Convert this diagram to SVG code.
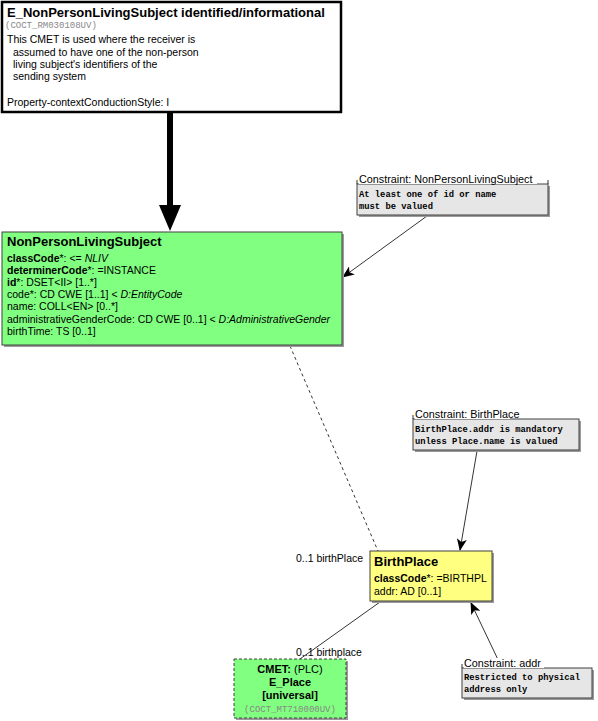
<svg xmlns="http://www.w3.org/2000/svg" width="598" height="721" viewBox="0 0 598 721">
<style>
.t{font-family:"Liberation Sans",Arial,sans-serif;fill:#000}
.title{font-size:13px;font-weight:bold}
.attr{font-size:10.5px}
.b{font-weight:bold}
.i{font-style:italic}
.mono{font-family:"Liberation Mono","Courier New",monospace;font-size:8.8px;font-weight:bold;fill:#000}
.code{font-family:"Liberation Mono","Courier New",monospace;font-size:9px;fill:#888}
.shadow{fill:#9a9a9a}
.green{fill:#80FF80;stroke:#404040;stroke-width:1}
.yellow{fill:#FFFF80;stroke:#404040;stroke-width:1}
.con{fill:#E6E6E6;stroke:#404040;stroke-width:1}
.lbl{fill:#fff}
.clbl{font-size:10.8px}
.line{stroke:#000;stroke-width:0.8;fill:none}
</style>
<defs>
<marker id="arr" markerWidth="12" markerHeight="10" refX="11" refY="5" orient="auto" markerUnits="userSpaceOnUse">
<path d="M0,0 L12,5 L0,10 L3,5 z" fill="#000"/>
</marker>
</defs>

<g id="connectors">
<line x1="170" y1="113" x2="170" y2="208" stroke="#000" stroke-width="6"/>
<path d="M159,205 L181,205 L170,231 z" fill="#000"/>
<line class="line" x1="290" y1="346" x2="378" y2="551" stroke-dasharray="3,3"/>
<line class="line" x1="427" y1="216" x2="343" y2="277" marker-end="url(#arr)"/>
<line class="line" x1="477" y1="451" x2="460" y2="550" marker-end="url(#arr)"/>
<line class="line" x1="502" y1="668" x2="471" y2="603" marker-end="url(#arr)"/>
<line class="line" x1="380" y1="602" x2="300" y2="659"/>
<text class="t" x="296" y="562" font-size="10.5">0..1 birthPlace</text>
<text class="t" x="296" y="656" font-size="10.5">0..1 birthplace</text>
</g>

<g id="E_NonPersonLivingSubject">
<rect x="2" y="2" width="339" height="110" fill="#fff" stroke="#000" stroke-width="2.5"/>
<text class="t title" x="7" y="17">E_NonPersonLivingSubject identified/informational</text>
<text class="code" x="5" y="28">(COCT_RM030108UV)</text>
<text class="t" x="7" y="43" font-size="10.5">This CMET is used where the receiver is</text>
<text class="t" x="13" y="56" font-size="10.5">assumed to have one of the non-person</text>
<text class="t" x="13" y="68" font-size="10.5">living subject's identifiers of the</text>
<text class="t" x="13" y="80" font-size="10.5">sending system</text>
<text class="t" x="7" y="106" font-size="10.5">Property-contextConductionStyle: I</text>
</g>

<g id="NonPersonLivingSubject">
<rect class="shadow" x="4" y="234" width="340" height="113"/>
<rect class="green" x="2" y="232" width="340" height="113"/>
<text class="t title" x="7" y="246">NonPersonLivingSubject</text>
<text class="t attr" x="7" y="262"><tspan class="b">classCode</tspan>*: &lt;= <tspan class="i">NLIV</tspan></text>
<text class="t attr" x="7" y="274"><tspan class="b">determinerCode</tspan>*: =INSTANCE</text>
<text class="t attr" x="7" y="286"><tspan class="b">id</tspan>*: DSET&lt;II&gt; [1..*]</text>
<text class="t attr" x="7" y="298">code*: CD CWE [1..1] &lt; <tspan class="i">D:EntityCode</tspan></text>
<text class="t attr" x="7" y="310">name: COLL&lt;EN&gt; [0..*]</text>
<text class="t attr" x="7" y="323">administrativeGenderCode: CD CWE [0..1] &lt; <tspan class="i">D:AdministrativeGender</tspan></text>
<text class="t attr" x="7" y="335">birthTime: TS [0..1]</text>
</g>

<g id="Constraint_NonPersonLivingSubject">
<rect class="shadow" x="359" y="186" width="191" height="31"/>
<rect class="con" x="357" y="184" width="191" height="31"/>
<rect class="lbl" x="359" y="174" width="178" height="10"/>
<line class="line" x1="357" y1="184" x2="357" y2="180"/>
<line class="line" x1="548" y1="184" x2="548" y2="180"/>
<text class="t clbl" x="359" y="183">Constraint: NonPersonLivingSubject</text>
<text class="mono" x="359" y="197">At least one of id or name</text>
<text class="mono" x="359" y="209">must be valued</text>
</g>

<g id="Constraint_BirthPlace">
<rect class="shadow" x="415" y="421" width="166" height="31"/>
<rect class="con" x="413" y="419" width="166" height="31"/>
<rect class="lbl" x="415" y="409" width="95" height="10"/>
<line class="line" x1="413" y1="419" x2="413" y2="415"/>
<text class="t clbl" x="415" y="418">Constraint: BirthPlace</text>
<text class="mono" x="415" y="432">BirthPlace.addr is mandatory</text>
<text class="mono" x="415" y="444">unless Place.name is valued</text>
</g>

<g id="BirthPlace">
<rect class="shadow" x="372" y="553" width="122" height="50"/>
<rect class="yellow" x="370" y="551" width="122" height="50"/>
<text class="t title" x="374" y="566">BirthPlace</text>
<text class="t attr" x="374" y="582"><tspan class="b">classCode</tspan>*: =BIRTHPL</text>
<text class="t attr" x="374" y="595">addr: AD [0..1]</text>
</g>

<g id="E_Place">
<rect class="shadow" x="236" y="661" width="112" height="59"/>
<rect x="234" y="659" width="112" height="59" fill="#80FF80" stroke="#404040" stroke-width="1" stroke-dasharray="3,2"/>
<text class="t b" x="290" y="673" font-size="11" text-anchor="middle">CMET: <tspan font-weight="normal">(PLC)</tspan></text>
<text class="t b" x="290" y="686" font-size="11" text-anchor="middle">E_Place</text>
<text class="t b" x="290" y="699" font-size="11" text-anchor="middle">[universal]</text>
<text class="code" x="290" y="712" text-anchor="middle" font-size="8.5">(COCT_MT710000UV)</text>
</g>

<g id="Constraint_addr">
<rect class="shadow" x="464" y="670" width="130" height="30"/>
<rect class="con" x="462" y="668" width="130" height="30"/>
<rect class="lbl" x="464" y="658" width="80" height="10"/>
<line class="line" x1="462" y1="668" x2="462" y2="664"/>
<text class="t clbl" x="464" y="667">Constraint: addr</text>
<text class="mono" x="464" y="680">Restricted to physical</text>
<text class="mono" x="464" y="692">address only</text>
</g>
</svg>
